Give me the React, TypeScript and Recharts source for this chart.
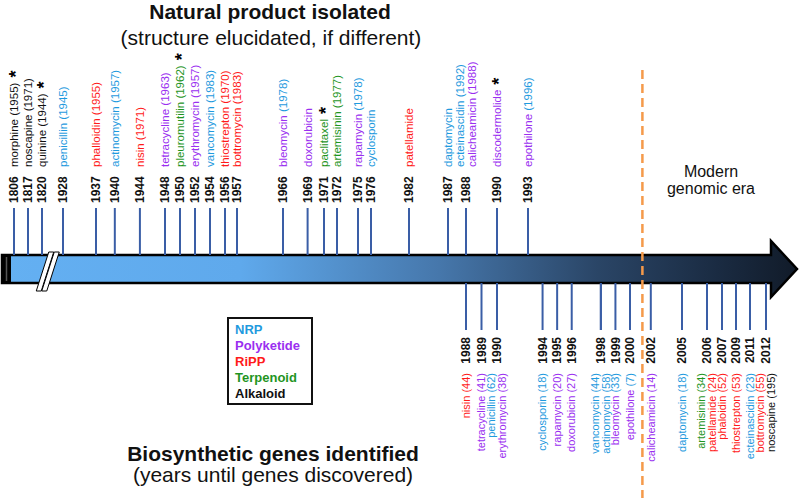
import {
  ComposedChart,
  Legend,
  ReferenceArea,
  ReferenceLine,
  Scatter,
  XAxis,
  YAxis,
} from "recharts";

// compound classes and their label colours
const CLASSES = ["NRP", "Polyketide", "RiPP", "Terpenoid", "Alkaloid"];
const CLASS_COLORS: Record<string, string> = {
  NRP: "#1f9ade",
  Polyketide: "#9a2ff0",
  RiPP: "#ff1a1a",
  Terpenoid: "#1f951f",
  Alkaloid: "#111111",
};

// year isolated, with year the structure was solved (if different)
const isolated = [
  { year: 1806, name: "morphine", solved: 1955, cls: "Alkaloid", star: true },
  { year: 1817, name: "noscapine", solved: 1971, cls: "Alkaloid" },
  { year: 1820, name: "quinine", solved: 1944, cls: "Alkaloid", star: true },
  { year: 1928, name: "penicillin", solved: 1945, cls: "NRP" },
  { year: 1937, name: "phalloidin", solved: 1955, cls: "RiPP" },
  { year: 1940, name: "actinomycin", solved: 1957, cls: "NRP" },
  { year: 1944, name: "nisin", solved: 1971, cls: "RiPP" },
  { year: 1948, name: "tetracycline", solved: 1963, cls: "Polyketide" },
  { year: 1950, name: "pleuromutilin", solved: 1962, cls: "Terpenoid", star: true },
  { year: 1952, name: "erythromycin", solved: 1957, cls: "Polyketide" },
  { year: 1954, name: "vancomycin", solved: 1983, cls: "NRP" },
  { year: 1956, name: "thiostrepton", solved: 1970, cls: "RiPP" },
  { year: 1957, name: "bottromycin", solved: 1983, cls: "RiPP" },
  { year: 1966, name: "bleomycin", solved: 1978, cls: "Polyketide/NRP" },
  { year: 1969, name: "doxorubicin", cls: "Polyketide" },
  { year: 1971, name: "paclitaxel", cls: "Terpenoid", star: true },
  { year: 1972, name: "artemisinin", solved: 1977, cls: "Terpenoid" },
  { year: 1975, name: "rapamycin", solved: 1978, cls: "Polyketide/NRP" },
  { year: 1976, name: "cyclosporin", cls: "NRP" },
  { year: 1982, name: "patellamide", cls: "RiPP" },
  { year: 1987, name: "daptomycin", cls: "NRP" },
  { year: 1988, name: "ecteinascidin", solved: 1992, cls: "NRP" },
  { year: 1988, name: "calicheamicin", solved: 1988, cls: "Polyketide" },
  { year: 1990, name: "discodermolide", cls: "Polyketide", star: true },
  { year: 1993, name: "epothilone", solved: 1996, cls: "Polyketide/NRP" },
];

// year the biosynthetic genes were identified, with years waited
const genes = [
  { year: 1988, name: "nisin", wait: 44, cls: "RiPP" },
  { year: 1989, name: "tetracycline", wait: 41, cls: "Polyketide" },
  { year: 1990, name: "penicillin", wait: 62, cls: "NRP" },
  { year: 1990, name: "erythromycin", wait: 38, cls: "Polyketide" },
  { year: 1994, name: "cyclosporin", wait: 18, cls: "NRP" },
  { year: 1995, name: "rapamycin", wait: 20, cls: "Polyketide" },
  { year: 1996, name: "doxorubicin", wait: 27, cls: "Polyketide" },
  { year: 1998, name: "vancomycin", wait: 44, cls: "NRP" },
  { year: 1998, name: "actinomycin", wait: 58, cls: "NRP" },
  { year: 1999, name: "bleomycin", wait: 33, cls: "Polyketide/NRP" },
  { year: 2000, name: "epothilone", wait: 7, cls: "Polyketide/NRP" },
  { year: 2002, name: "calicheamicin", wait: 14, cls: "Polyketide" },
  { year: 2005, name: "daptomycin", wait: 18, cls: "NRP" },
  { year: 2006, name: "artemisinin", wait: 34, cls: "Terpenoid" },
  { year: 2006, name: "patellamide", wait: 24, cls: "RiPP" },
  { year: 2007, name: "phaloidin", wait: 52, cls: "RiPP" },
  { year: 2009, name: "thiostrepton", wait: 53, cls: "RiPP" },
  { year: 2011, name: "ecteinascidin", wait: 23, cls: "NRP" },
  { year: 2012, name: "bottromycin", wait: 55, cls: "RiPP" },
  { year: 2012, name: "noscapine", wait: 195, cls: "Alkaloid" },
];

// broken, hand-spaced time axis: year -> track position
const AXIS_KNOTS: [number, number][] = [
  [1806, 14], [1817, 28], [1820, 42], [1928, 63], [1937, 96], [1948, 165],
  [1954, 210], [1956, 225], [1957, 237], [1966, 283], [1971, 324],
  [1972, 337], [1975, 358], [1976, 371], [1982, 409], [1987, 448],
  [1988, 466], [1990, 497], [1993, 528], [2000, 630], [2005, 682],
  [2006, 707], [2007, 722], [2009, 736], [2011, 750], [2012, 766],
];
const GENOMIC_ERA = 2001;

const FONT = '"Liberation Sans", Arial, sans-serif';
const STEM = "#3a5ea6";
const LANE = 14;
const W = 800;
const H = 498;

function trackPos(year: number) {
  for (let i = 1; i < AXIS_KNOTS.length; i++) {
    const [y0, p0] = AXIS_KNOTS[i - 1];
    const [y1, p1] = AXIS_KNOTS[i];
    if (year <= y1) return p0 + ((year - y0) / (y1 - y0)) * (p1 - p0);
  }
  const [yl, pl] = AXIS_KNOTS[AXIS_KNOTS.length - 1];
  return pl + (year - yl) * 10;
}

function withSlots(list: any[], lane: number, paren: (d: any) => any) {
  return list.map((d) => {
    const same = list.filter((o) => o.year === d.year);
    return {
      ...d,
      x: trackPos(d.year),
      y: lane,
      lane,
      paren: paren(d),
      slot: same.indexOf(d),
      count: same.length,
    };
  });
}

const topData = withSlots(isolated, LANE, (d) => d.solved);
const bottomData = withSlots(genes, -LANE, (d) => d.wait);

function colorsFor(cls: string) {
  const [a, b] = cls.split("/");
  return [CLASS_COLORS[a], CLASS_COLORS[b || a]];
}

function EventMark(props: any) {
  const { cx, cy, payload } = props;
  if (cx == null || cy == null) return null;
  const up = payload.lane > 0;
  const dir = up ? -1 : 1;
  const [c1, c2] = colorsFor(payload.cls);
  const fs = up ? 11.5 : 11;
  const lx = cx + (payload.slot - (payload.count - 1) / 2) * 11.5 + fs * 0.34;
  const ly = cy + dir * (up ? 88 : 90);
  const yx = cx + 4.3;
  const yy = cy + dir * (up ? 52 : 54);
  return (
    <g>
      <line x1={cx} y1={cy} x2={cx} y2={cy + dir * 47} stroke={STEM} strokeWidth={2} />
      {payload.slot === 0 && (
        <text
          x={yx}
          y={yy}
          transform={`rotate(-90 ${yx} ${yy})`}
          textAnchor={up ? "start" : "end"}
          fontFamily={FONT}
          fontWeight="bold"
          fontSize={12}
          fill="#111"
        >
          {payload.year}
        </text>
      )}
      <text
        x={lx}
        y={ly}
        transform={`rotate(-90 ${lx} ${ly})`}
        textAnchor={up ? "start" : "end"}
        fontFamily={FONT}
        fontSize={fs}
      >
        <tspan fill={c1}>{payload.name}</tspan>
        {payload.paren != null && <tspan fill={c2}>{` (${payload.paren})`}</tspan>}
        {payload.star && (
          <tspan fill="#000" fontSize={18} fontWeight="bold" dy={4}>{" *"}</tspan>
        )}
      </text>
    </g>
  );
}

function TimelineArrow(props: any) {
  const { x, y, width, height } = props;
  const cy = y + height / 2;
  const tip = x + width;
  const base = tip - 26;
  const hh = 28;
  const bx = trackPos(1820) + (trackPos(1928) - trackPos(1820)) * 0.25;
  const strip = (i: number) => {
    const o = i * 5.5;
    return `${bx - 11 + o},${cy + 22} ${bx - 6 + o},${cy + 22} ${bx + 6.5 + o},${cy - 17} ${bx + 1.5 + o},${cy - 17}`;
  };
  return (
    <g>
      <defs>
        <linearGradient id="arrowFill" x1="0" y1="0" x2="1" y2="0">
          <stop offset="0" stopColor="#64b0f2" />
          <stop offset="0.3" stopColor="#5fa9ec" />
          <stop offset="0.55" stopColor="#4677ab" />
          <stop offset="0.75" stopColor="#2a4566" />
          <stop offset="0.9" stopColor="#1a2b42" />
          <stop offset="1" stopColor="#111b29" />
        </linearGradient>
      </defs>
      <path
        d={`M${x},${y} L${base},${y} L${base},${cy - hh} L${tip},${cy} L${base},${cy + hh} L${base},${y + height} L${x},${y + height} Z`}
        fill="url(#arrowFill)"
        stroke="#000"
        strokeWidth={2.5}
      />
      <rect x={x} y={y} width={9} height={height} fill="#000" />
      <line x1={x + 4.5} y1={y + 2} x2={x + 4.5} y2={y + height - 2} stroke="#555" strokeWidth={1.5} />
      <polygon points={strip(0)} fill="#fff" stroke="#000" strokeWidth={1} />
      <polygon points={strip(1)} fill="#fff" stroke="#000" strokeWidth={1} />
    </g>
  );
}

function LegendBox() {
  return (
    <div
      style={{
        border: "2.5px solid #111",
        background: "#fff",
        width: 86,
        height: 88,
        boxSizing: "border-box",
        padding: "3px 0 0 6px",
        fontFamily: FONT,
        fontWeight: "bold",
        fontSize: 13,
        lineHeight: "16px",
        textAlign: "left",
      }}
    >
      {CLASSES.map((c) => (
        <div key={c} style={{ color: CLASS_COLORS[c] }}>
          {c}
        </div>
      ))}
    </div>
  );
}

export default function App() {
  const eraX = trackPos(GENOMIC_ERA) + 2;
  return (
    <div style={{ position: "absolute", left: 0, top: 0, width: W, height: H, background: "#fff" }}>
      <ComposedChart width={W} height={H} margin={{ top: 0, right: 0, bottom: 0, left: 0 }}>
        <XAxis type="number" dataKey="x" domain={[0, W]} hide allowDataOverflow />
        <YAxis type="number" dataKey="y" domain={[-229, 269]} hide allowDataOverflow />
        <ReferenceLine
          segment={[{ x: eraX, y: 199 }, { x: eraX, y: -229 }]}
          stroke="#f59a4a"
          strokeWidth={2.5}
          strokeDasharray="9 5"
        />
        <ReferenceArea
          x1={2}
          x2={797}
          y1={-LANE}
          y2={LANE}
          shape={(p: any) => <TimelineArrow {...p} />}
        />
        <Scatter data={topData} shape={(p: any) => <EventMark {...p} />} isAnimationActive={false} />
        <Scatter data={bottomData} shape={(p: any) => <EventMark {...p} />} isAnimationActive={false} />
        <Legend
          layout="vertical"
          align="center"
          verticalAlign="middle"
          content={() => <LegendBox />}
          wrapperStyle={{ left: 227, top: 317, width: 86, height: 88 }}
        />
      </ComposedChart>
      <svg
        width={W}
        height={H}
        style={{ position: "absolute", left: 0, top: 0, pointerEvents: "none" }}
        fontFamily={FONT}
      >
        <text x={270} y={19} textAnchor="middle" fontWeight="bold" fontSize={21} fill="#111">
          Natural product isolated
        </text>
        <text x={271} y={45} textAnchor="middle" fontSize={21} fill="#111">
          (structure elucidated, if different)
        </text>
        <text x={273} y={461} textAnchor="middle" fontWeight="bold" fontSize={21} fill="#111">
          Biosynthetic genes identified
        </text>
        <text x={273} y={482} textAnchor="middle" fontSize={21} fill="#111">
          (years until genes discovered)
        </text>
        <text x={711} y={177} textAnchor="middle" fontSize={16} fill="#111">
          Modern
        </text>
        <text x={711} y={194} textAnchor="middle" fontSize={16} fill="#111">
          genomic era
        </text>
      </svg>
    </div>
  );
}
